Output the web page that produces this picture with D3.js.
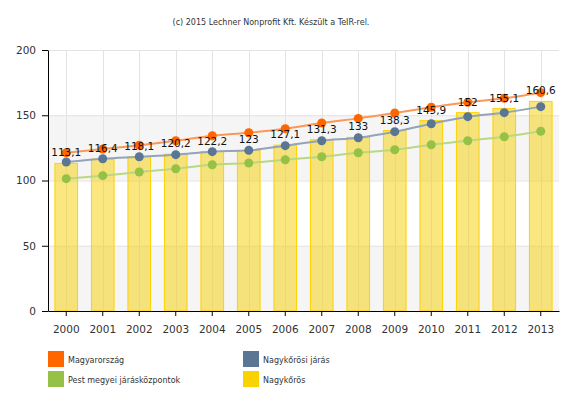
<!DOCTYPE html>
<html>
<head>
<meta charset="utf-8">
<script src="https://cdn.jsdelivr.net/npm/d3@7"></script>
<style>
body{margin:0;background:#fff;}
svg{display:block;}
</style>
</head>
<body>
<svg id="chart" width="580" height="400"></svg>
<script>
const years = ["2000","2001","2002","2003","2004","2005","2006","2007","2008","2009","2010","2011","2012","2013"];
const nagykoros = [113.1,116.4,118.1,120.2,122.2,123,127.1,131.3,133,138.3,145.9,152,155.1,160.6];
const magyarorszag = [121.3,124.1,127,130.5,134.3,136.6,139.7,144.1,147.6,151.7,156.1,159.9,163,167.3];
const jaras = [114.2,116.7,118.2,119.8,122.1,123.1,126.7,130.5,132.8,137.4,143.5,148.9,152,156.6];
const pest = [101.4,103.7,106.5,109,112.1,113.4,115.9,118.2,121.3,123.6,127.4,130.5,133.5,137.7];
const yTicks = [0,50,100,150,200];
const titleText = "(c) 2015 Lechner Nonprofit Kft. Készült a TeIR-rel.";

const svg = d3.select("#chart");
const L = 48, R = 559, T = 50, B = 311;
const x = d3.scaleBand().domain(years).range([L, R]).paddingInner(0.38).paddingOuter(0.19);
const xc = d => x(d) + x.bandwidth()/2;
const y = d3.scaleLinear().domain([0,200]).range([B, T]);

svg.append("text").attr("x", 271).attr("y", 25).attr("text-anchor","middle")
  .style("font-family","DejaVu Sans, sans-serif").style("font-size","8px").attr("fill","#333")
  .text(titleText);

// alternating bands
const bands = [[0,50],[100,150]];
svg.append("g").selectAll("rect").data(bands).join("rect")
  .attr("x", L).attr("width", R-L)
  .attr("y", d=>y(d[1])).attr("height", d=>y(d[0])-y(d[1]))
  .attr("fill","#f5f5f5");

// grid
svg.append("g").selectAll("line").data(yTicks.slice(1)).join("line")
  .attr("x1",L).attr("x2",R).attr("y1",d=>y(d)+0.5).attr("y2",d=>y(d)+0.5)
  .attr("stroke","#e3e3e3");
svg.append("g").selectAll("line").data(years).join("line")
  .attr("x1",d=>Math.round(xc(d))+0.5).attr("x2",d=>Math.round(xc(d))+0.5).attr("y1",T).attr("y2",B)
  .attr("stroke","#e3e3e3");

// bars
svg.append("g").selectAll("rect").data(years).join("rect")
  .attr("x",(d)=>x(d)).attr("width",x.bandwidth())
  .attr("y",(d,i)=>y(nagykoros[i])).attr("height",(d,i)=>B-y(nagykoros[i]))
  .attr("fill","#f7d000").attr("fill-opacity",0.5)
  .attr("stroke","#ffd200").attr("stroke-width",1);

// lines
const series = [
  {vals: pest, line:"#b9d882", dot:"#95c147"},
  {vals: jaras, line:"#93a4b9", dot:"#5b7595"},
  {vals: magyarorszag, line:"#fb9858", dot:"#ff6600"}
];
const lineGen = d3.line().x((d,i)=>xc(years[i])).y(d=>y(d)).curve(d3.curveMonotoneX);
series.forEach(s=>{
  svg.append("path").datum(s.vals).attr("d",lineGen).attr("fill","none")
    .attr("stroke",s.line).attr("stroke-width",2);
});
series.forEach(s=>{
  svg.append("g").selectAll("circle").data(s.vals).join("circle")
    .attr("cx",(d,i)=>xc(years[i])).attr("cy",d=>y(d)).attr("r",4.5)
    .attr("fill",s.dot);
});

// data labels
svg.append("g").selectAll("text").data(nagykoros).join("text")
  .attr("x",(d,i)=>xc(years[i])).attr("y",d=>y(d)-7)
  .attr("text-anchor","middle")
  .style("font-family","DejaVu Sans, sans-serif").style("font-size","10.5px").attr("fill","#111")
  .text(d=>String(d).replace(".",","));

// axes
const xAxis = svg.append("g").attr("transform",`translate(0,${B})`)
  .call(d3.axisBottom(x).tickSize(5).tickSizeOuter(0));
xAxis.selectAll("text").style("font-family","DejaVu Sans, sans-serif").style("font-size","10.5px").attr("fill","#333").attr("dy","1.3em");
xAxis.select(".domain").attr("stroke","#000");
xAxis.selectAll(".tick line").attr("stroke","#000");

const yAxis = svg.append("g").attr("transform",`translate(${L},0)`)
  .call(d3.axisLeft(y).tickValues(yTicks).tickSize(6).tickSizeOuter(0));
yAxis.selectAll("text").style("font-family","DejaVu Sans, sans-serif").style("font-size","10.5px").attr("fill","#333").attr("x",-12);
yAxis.select(".domain").attr("stroke","#000");
yAxis.selectAll(".tick line").attr("stroke","#000");

// legend
const legendItems = [
  {name:"Magyarország", color:"#ff6600", col:0, row:0},
  {name:"Nagykőrösi járás", color:"#5b7595", col:1, row:0},
  {name:"Pest megyei járásközpontok", color:"#95c147", col:0, row:1},
  {name:"Nagykőrös", color:"#fcd100", col:1, row:1}
];
const lg = svg.append("g");
legendItems.forEach(it=>{
  const lx = it.col===0 ? 48 : 243, ly = it.row===0 ? 351 : 371;
  lg.append("rect").attr("x",lx).attr("y",ly).attr("width",16).attr("height",16).attr("fill",it.color);
  lg.append("text").attr("x",lx+20).attr("y",ly+11.5)
    .style("font-family","DejaVu Sans, sans-serif").style("font-size","8px").attr("fill","#333")
    .text(it.name);
});
</script>
</body>
</html>
